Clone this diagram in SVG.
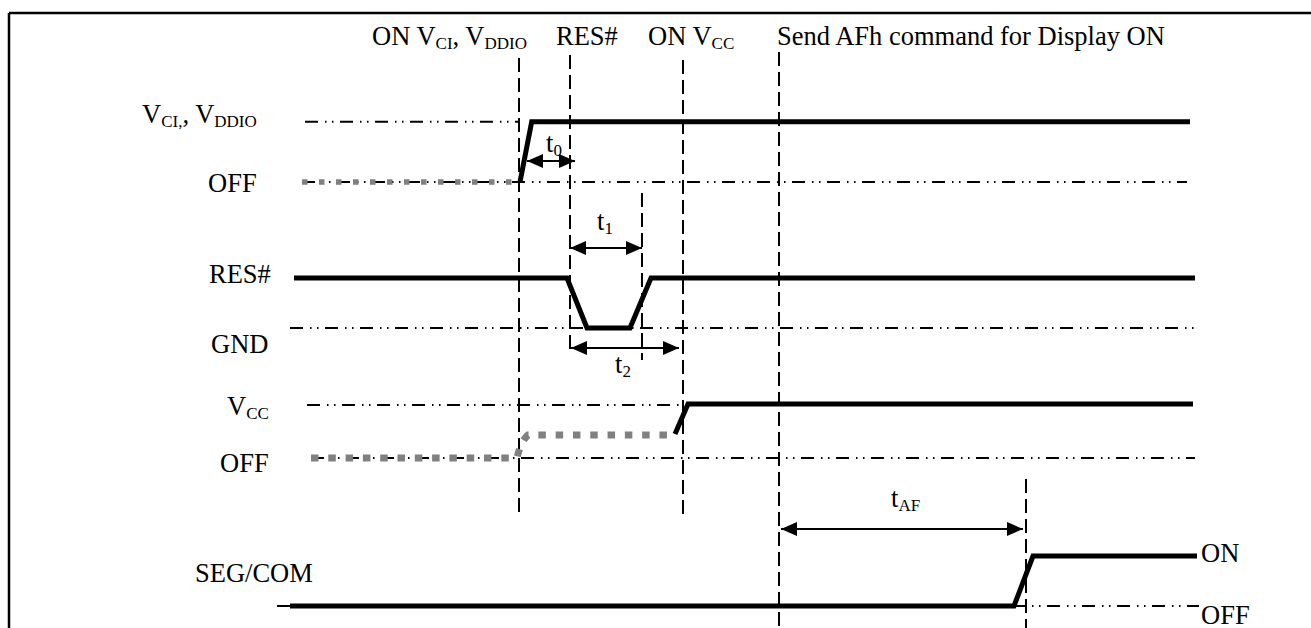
<svg xmlns="http://www.w3.org/2000/svg" width="1311" height="628" viewBox="0 0 1311 628">
<style>
text{font-family:"Liberation Serif","Times New Roman",serif;font-size:26.5px;fill:#000}
.sub{font-size:17px}
.ref{fill:none;stroke:#000;stroke-width:2;stroke-dasharray:13 7 1.5 5.5 1.5 6.5}
.vd{fill:none;stroke:#000;stroke-width:2;stroke-dasharray:14 6}
.sig{fill:none;stroke:#000;stroke-width:5;stroke-linejoin:miter}
.g1{fill:none;stroke:#808080;stroke-width:5.5;stroke-dasharray:5.5 11.5}
.g2{fill:none;stroke:#808080;stroke-width:7;stroke-dasharray:7.5 9.8}
.arr{fill:none;stroke:#000;stroke-width:2;marker-start:url(#ah);marker-end:url(#ah)}
</style>
<defs>
<marker id="ah" markerUnits="userSpaceOnUse" markerWidth="16" markerHeight="14" refX="16" refY="7" orient="auto-start-reverse">
<path d="M0,0 L16,7 L0,14 z" fill="#000"/>
</marker>
</defs>
<rect width="1311" height="628" fill="#fff"/>
<g id="frame">
<path d="M9,13 H1311 M9,13 V628" fill="none" stroke="#000" stroke-width="2.5"/>
</g>
<g id="reference-levels">
<path class="ref" d="M305,121.7 H519"/>
<path class="ref" d="M302,182 H1187"/>
<path class="ref" d="M290,328 H1195"/>
<path class="ref" d="M307,405 H683"/>
<path class="ref" d="M311,458 H1195"/>
<path class="ref" d="M277,606 H1199"/>
</g>
<g id="markers">
<path class="vd" d="M519,58 V512"/>
<path class="vd" d="M570,55 V355"/>
<path class="vd" d="M642,193 V360"/>
<path class="vd" d="M683,60 V514"/>
<path class="vd" d="M779,52 V628"/>
<path class="vd" d="M1026,479 V628"/>
</g>
<g id="top-labels">
<text x="372" y="45">ON V<tspan class="sub" dy="4">CI</tspan><tspan dy="-4">, V</tspan><tspan class="sub" dy="4">DDIO</tspan></text>
<text x="556" y="45">RES#</text>
<text x="648" y="45">ON V<tspan class="sub" dy="4">CC</tspan></text>
<text x="777" y="45">Send AFh command for Display ON</text>
</g>
<g id="signal-vci">
<text x="142" y="123">V<tspan class="sub" dy="4">CI,</tspan><tspan dy="-4">, V</tspan><tspan class="sub" dy="4">DDIO</tspan></text>
<text x="208" y="192">OFF</text>
<path class="g1" d="M302,182 H518"/>
<path class="sig" d="M520,182 L531.7,121.7 H1190"/>
</g>
<g id="signal-res">
<text x="209" y="283">RES#</text>
<text x="211" y="353">GND</text>
<path class="sig" d="M294,278 H567 L587,328 H630 L651,278 H1195"/>
</g>
<g id="signal-vcc">
<text x="227" y="415">V<tspan class="sub" dy="4">CC</tspan></text>
<text x="220" y="472">OFF</text>
<path class="g2" d="M311,458 H517 Q521,441 528,435 H672"/>
<path class="sig" d="M675,434 L688,404 H1193"/>
</g>
<g id="signal-segcom">
<text x="195" y="582">SEG/COM</text>
<path class="sig" d="M290,606 H1014 L1033,556 H1197"/>
<text x="1201" y="562">ON</text>
<text x="1201" y="624">OFF</text>
</g>
<g id="connectors">
<path class="arr" d="M527,161 H575"/>
<path class="arr" d="M570,248 H642"/>
<path class="arr" d="M571,348 H679"/>
<path class="arr" d="M781,529 H1023"/>
</g>
<g id="timing-labels">
<text x="546" y="152">t<tspan class="sub" dy="4">0</tspan></text>
<text x="597" y="230">t<tspan class="sub" dy="4">1</tspan></text>
<text x="615" y="373">t<tspan class="sub" dy="4">2</tspan></text>
<text x="891" y="507">t<tspan class="sub" dy="4">AF</tspan></text>
</g>
</svg>
